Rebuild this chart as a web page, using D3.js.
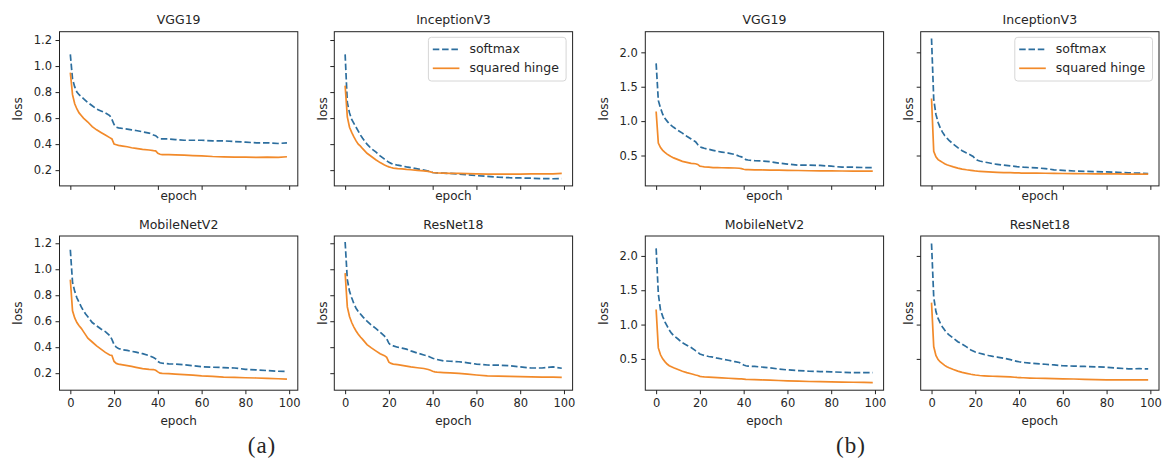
<!DOCTYPE html>
<html>
<head>
<meta charset="utf-8">
<script src="https://cdn.jsdelivr.net/npm/d3@7"></script>
<style>
  body { margin: 0; background: #fff; }
  text { font-family: "DejaVu Sans", sans-serif; fill: #262626; }
</style>
</head>
<body>
<div id="chart"></div>
<script>
const epochs = [0, 1, 2, 3, 4, 5, 6, 7, 8,
  10, 12, 14, 16, 18,
  19, 20, 21, 22,
  24, 26, 28, 30,
  33, 36, 38, 39,
  40, 41, 42, 45,
  48, 52, 56, 60,
  65, 70, 75, 80,
  85, 90, 95, 99];

const titles = ["VGG19", "InceptionV3", "MobileNetV2", "ResNet18"];
const seriesNames = ["softmax", "squared hinge"];
const xTicks = [0, 20, 40, 60, 80, 100];
const yTicksA = [0.2, 0.4, 0.6, 0.8, 1.0, 1.2];
const yTicksB = [0.5, 1.0, 1.5, 2.0];
const figLabels = ["(a)", "(b)"];

// (a)
const vggA_softmax = [1.09, 0.90, 0.84, 0.80, 0.78, 0.765, 0.75, 0.735, 0.72,
  0.695, 0.67, 0.655, 0.64, 0.62,
  0.59, 0.55, 0.53, 0.525,
  0.52, 0.515, 0.51, 0.505,
  0.495, 0.485, 0.47, 0.465,
  0.45, 0.44, 0.44, 0.44,
  0.435, 0.43, 0.43, 0.43,
  0.425, 0.425, 0.42, 0.415,
  0.41, 0.41, 0.405, 0.41];
const vggA_hinge = [0.95, 0.78, 0.71, 0.67, 0.64, 0.62, 0.60, 0.585, 0.57,
  0.535, 0.51, 0.49, 0.47, 0.45,
  0.44, 0.40, 0.395, 0.39,
  0.385, 0.38, 0.372, 0.367,
  0.36, 0.355, 0.35, 0.348,
  0.33, 0.322, 0.32, 0.32,
  0.318, 0.315, 0.312, 0.31,
  0.305, 0.302, 0.30, 0.30,
  0.298, 0.30, 0.298, 0.303];
const incA_softmax = [1.09, 0.72, 0.64, 0.59, 0.56, 0.53, 0.50, 0.47, 0.445,
  0.40, 0.365, 0.34, 0.31, 0.285,
  0.272, 0.26, 0.252, 0.246,
  0.238, 0.232, 0.225, 0.219,
  0.21, 0.20, 0.192, 0.188,
  0.182, 0.18, 0.179, 0.177,
  0.175, 0.17, 0.165, 0.158,
  0.152, 0.146, 0.142, 0.14,
  0.138, 0.135, 0.134, 0.135];
const incA_hinge = [0.85, 0.61, 0.53, 0.49, 0.455, 0.425, 0.40, 0.385, 0.365,
  0.33, 0.305, 0.28, 0.258, 0.24,
  0.232, 0.225, 0.22, 0.216,
  0.212, 0.21, 0.206, 0.203,
  0.199, 0.195, 0.19, 0.187,
  0.182, 0.18, 0.178, 0.177,
  0.176, 0.175, 0.174, 0.172,
  0.17, 0.17, 0.17, 0.17,
  0.171, 0.172, 0.172, 0.175];
const mobA_softmax = [1.15, 0.90, 0.83, 0.78, 0.745, 0.71, 0.68, 0.655, 0.635,
  0.59, 0.565, 0.54, 0.52, 0.49,
  0.46, 0.42, 0.40, 0.39,
  0.38, 0.375, 0.368, 0.362,
  0.35, 0.335, 0.32, 0.31,
  0.29, 0.28, 0.277, 0.272,
  0.27, 0.265, 0.258, 0.25,
  0.246, 0.243, 0.24, 0.23,
  0.225, 0.22, 0.215, 0.213];
const mobA_hinge = [0.92, 0.68, 0.625, 0.59, 0.565, 0.545, 0.52, 0.495, 0.47,
  0.44, 0.41, 0.385, 0.36, 0.34,
  0.336, 0.29, 0.275, 0.27,
  0.264, 0.258, 0.252, 0.245,
  0.235, 0.23, 0.228, 0.222,
  0.21, 0.20, 0.198, 0.196,
  0.193, 0.189, 0.185, 0.18,
  0.176, 0.17, 0.167, 0.165,
  0.163, 0.16, 0.157, 0.154];
const resA_softmax = [1.21, 0.92, 0.83, 0.78, 0.735, 0.70, 0.675, 0.655, 0.635,
  0.60, 0.57, 0.545, 0.515, 0.485,
  0.465, 0.43, 0.415, 0.41,
  0.40, 0.393, 0.385, 0.372,
  0.355, 0.34, 0.33, 0.322,
  0.315, 0.31, 0.305, 0.295,
  0.292, 0.288, 0.28, 0.27,
  0.263, 0.262, 0.258, 0.248,
  0.24, 0.24, 0.248, 0.238];
const resA_hinge = [0.97, 0.71, 0.636, 0.59, 0.555, 0.525, 0.50, 0.478, 0.46,
  0.42, 0.395, 0.372, 0.35, 0.335,
  0.322, 0.285, 0.275, 0.27,
  0.266, 0.26, 0.254, 0.248,
  0.242, 0.236, 0.228, 0.222,
  0.215, 0.21, 0.208, 0.205,
  0.202, 0.198, 0.192, 0.186,
  0.18, 0.178, 0.176, 0.174,
  0.172, 0.17, 0.17, 0.167];

// (b)
const vggB_softmax = [1.84, 1.30, 1.19, 1.10, 1.04, 1.00, 0.96, 0.935, 0.91,
  0.865, 0.825, 0.78, 0.74, 0.70,
  0.66, 0.625, 0.615, 0.605,
  0.59, 0.575, 0.56, 0.55,
  0.535, 0.515, 0.49, 0.48,
  0.46, 0.44, 0.435, 0.425,
  0.42, 0.41, 0.39, 0.375,
  0.36, 0.36, 0.355, 0.345,
  0.33, 0.33, 0.325, 0.325];
const vggB_hinge = [1.14, 0.68, 0.615, 0.575, 0.545, 0.52, 0.50, 0.48, 0.465,
  0.44, 0.415, 0.40, 0.385, 0.38,
  0.37, 0.345, 0.34, 0.335,
  0.33, 0.325, 0.323, 0.322,
  0.32, 0.318, 0.315, 0.31,
  0.30, 0.296, 0.295, 0.292,
  0.29, 0.288, 0.287, 0.285,
  0.282, 0.278, 0.277, 0.276,
  0.275, 0.274, 0.273, 0.272];
const incB_softmax = [2.20, 1.32, 1.10, 0.98, 0.90, 0.84, 0.79, 0.755, 0.72,
  0.665, 0.615, 0.57, 0.535, 0.505,
  0.485, 0.45, 0.43, 0.42,
  0.405, 0.395, 0.38, 0.372,
  0.36, 0.35, 0.342, 0.338,
  0.335, 0.333, 0.33, 0.325,
  0.32, 0.31, 0.292, 0.283,
  0.275, 0.27, 0.266, 0.262,
  0.256, 0.248, 0.243, 0.238];
const incB_hinge = [1.33, 0.56, 0.48, 0.44, 0.42, 0.40, 0.38, 0.365, 0.355,
  0.335, 0.317, 0.303, 0.293, 0.285,
  0.28, 0.275, 0.272, 0.27,
  0.265, 0.261, 0.258, 0.255,
  0.252, 0.25, 0.248, 0.247,
  0.246, 0.245, 0.245, 0.244,
  0.243, 0.242, 0.24, 0.238,
  0.237, 0.235, 0.234, 0.233,
  0.232, 0.23, 0.229, 0.228];
const mobB_softmax = [2.11, 1.45, 1.21, 1.12, 1.04, 0.98, 0.92, 0.875, 0.84,
  0.79, 0.735, 0.70, 0.665, 0.62,
  0.60, 0.57, 0.56, 0.55,
  0.535, 0.525, 0.51, 0.498,
  0.48, 0.46, 0.447, 0.43,
  0.41, 0.40, 0.395, 0.39,
  0.382, 0.37, 0.352, 0.34,
  0.33, 0.32, 0.316, 0.312,
  0.305, 0.30, 0.30, 0.30];
const mobB_hinge = [1.22, 0.66, 0.56, 0.50, 0.46, 0.425, 0.40, 0.385, 0.37,
  0.345, 0.32, 0.30, 0.283, 0.265,
  0.258, 0.246, 0.24, 0.237,
  0.234, 0.232, 0.228, 0.224,
  0.218, 0.213, 0.21, 0.208,
  0.205, 0.202, 0.20, 0.197,
  0.194, 0.19, 0.185, 0.18,
  0.177, 0.171, 0.168, 0.165,
  0.162, 0.16, 0.157, 0.155];
const resB_softmax = [2.18, 1.40, 1.19, 1.09, 1.02, 0.965, 0.92, 0.88, 0.85,
  0.80, 0.75, 0.715, 0.675, 0.63,
  0.615, 0.60, 0.59, 0.582,
  0.565, 0.55, 0.537, 0.527,
  0.51, 0.49, 0.472, 0.465,
  0.458, 0.452, 0.448, 0.438,
  0.43, 0.422, 0.412, 0.40,
  0.395, 0.39, 0.385, 0.378,
  0.365, 0.355, 0.357, 0.355];
const resB_hinge = [1.32, 0.68, 0.55, 0.49, 0.455, 0.43, 0.405, 0.385, 0.37,
  0.345, 0.322, 0.303, 0.29, 0.276,
  0.27, 0.265, 0.262, 0.258,
  0.254, 0.25, 0.247, 0.245,
  0.242, 0.237, 0.233, 0.23,
  0.228, 0.226, 0.225, 0.221,
  0.218, 0.215, 0.212, 0.21,
  0.207, 0.203, 0.198, 0.195,
  0.195, 0.194, 0.194, 0.194];

// layout (pixels)
const colX = [59.5, 334.3, 645.3, 920.7];
const rowY = [31.7, 236];
const panelW = 238.3, panelH = 154.2;
const yDomains = {
  a: [[0.079, 1.264], [0.069, 1.256]],
  b: [[0.058, 2.30], [0.044, 2.29]]
};
const blue = "#2c6e9e", orange = "#f28a2a";

const panels = [
  { fig: "a", row: 0, col: 0, title: titles[0], s: vggA_softmax, h: vggA_hinge },
  { fig: "a", row: 0, col: 1, title: titles[1], s: incA_softmax, h: incA_hinge },
  { fig: "a", row: 1, col: 0, title: titles[2], s: mobA_softmax, h: mobA_hinge },
  { fig: "a", row: 1, col: 1, title: titles[3], s: resA_softmax, h: resA_hinge },
  { fig: "b", row: 0, col: 2, title: titles[0], s: vggB_softmax, h: vggB_hinge },
  { fig: "b", row: 0, col: 3, title: titles[1], s: incB_softmax, h: incB_hinge },
  { fig: "b", row: 1, col: 2, title: titles[2], s: mobB_softmax, h: mobB_hinge },
  { fig: "b", row: 1, col: 3, title: titles[3], s: resB_softmax, h: resB_hinge }
];

const svg = d3.select("#chart")
  .append("svg")
  .attr("width", 1166)
  .attr("height", 462);

const x = d3.scaleLinear().domain([-4.95, 103.95]).range([0, panelW]);

function drawPanel(p) {
  const g = svg.append("g")
    .attr("transform", `translate(${colX[p.col]},${rowY[p.row]})`);
  const y = d3.scaleLinear().domain(yDomains[p.fig][p.row]).range([panelH, 0]);
  const leftCol = p.col % 2 === 0;
  const bottomRow = p.row === 1;

  const yAxis = d3.axisLeft(y)
    .tickValues(p.fig === "a" ? yTicksA : yTicksB)
    .tickSize(4).tickPadding(3.5)
    .tickFormat(leftCol ? d3.format(".1f") : "");
  g.append("g").call(yAxis)
    .call(a => a.select(".domain").remove())
    .call(a => a.selectAll("text").style("font-size", "11.5px").attr("fill", "#262626"))
    .call(a => a.selectAll("line").attr("stroke", "#222"));

  const xAxis = d3.axisBottom(x)
    .tickValues(xTicks)
    .tickSize(4).tickPadding(4.5)
    .tickFormat(bottomRow ? d3.format("d") : "");
  g.append("g").attr("transform", `translate(0,${panelH})`).call(xAxis)
    .call(a => a.select(".domain").remove())
    .call(a => a.selectAll("text").style("font-size", "11.5px").attr("fill", "#262626"))
    .call(a => a.selectAll("line").attr("stroke", "#222"));

  const line = d3.line()
    .x((d, i) => x(epochs[i]))
    .y(d => y(d));

  g.append("path")
    .datum(p.s)
    .attr("d", line)
    .attr("fill", "none")
    .attr("stroke", blue)
    .attr("stroke-width", 1.7)
    .attr("stroke-dasharray", "6.5,2.8");

  g.append("path")
    .datum(p.h)
    .attr("d", line)
    .attr("fill", "none")
    .attr("stroke", orange)
    .attr("stroke-width", 1.7);

  // frame
  g.append("rect")
    .attr("width", panelW)
    .attr("height", panelH)
    .attr("fill", "none")
    .attr("stroke", "#222")
    .attr("stroke-width", 1);

  g.append("text")
    .attr("x", panelW / 2)
    .attr("y", -7.5)
    .attr("text-anchor", "middle")
    .style("font-size", "12.5px")
    .text(p.title);

  g.append("text")
    .attr("x", panelW / 2)
    .attr("y", bottomRow ? panelH + 34.7 : panelH + 14.3)
    .attr("text-anchor", "middle")
    .style("font-size", "12px")
    .text("epoch");

  g.append("text")
    .attr("transform", `translate(${leftCol ? -37.5 : -7.3},${panelH / 2}) rotate(-90)`)
    .attr("text-anchor", "middle")
    .style("font-size", "12px")
    .text("loss");

  if (p.row === 0 && !leftCol) drawLegend(g);
}

function drawLegend(g) {
  const bw = 137.7, bh = 43.7;
  const lg = g.append("g").attr("transform", `translate(${panelW - 6.5 - bw},5.6)`);
  lg.append("rect")
    .attr("width", bw).attr("height", bh)
    .attr("rx", 3)
    .attr("fill", "#fff").attr("fill-opacity", 0.8)
    .attr("stroke", "#d6d6d6");
  seriesNames.forEach(function (name, i) {
    lg.append("line")
      .attr("x1", 4.4).attr("x2", 31)
      .attr("y1", 12 + i * 19).attr("y2", 12 + i * 19)
      .attr("stroke", i === 0 ? blue : orange)
      .attr("stroke-width", 1.7)
      .attr("stroke-dasharray", i === 0 ? "6.5,2.8" : null);
    lg.append("text")
      .attr("x", 41)
      .attr("y", 16.2 + i * 19)
      .style("font-size", "12.5px")
      .text(name);
  });
}

panels.forEach(drawPanel);

svg.selectAll(".figlabel")
  .data(figLabels)
  .join("text")
  .attr("class", "figlabel")
  .attr("x", (d, i) => i === 0 ? 262 : 851)
  .attr("y", 453)
  .attr("text-anchor", "middle")
  .style("font-family", "'Liberation Serif', serif")
  .style("font-size", "23px")
  .style("letter-spacing", "1px")
  .attr("fill", "#111")
  .text(d => d);
</script>
</body>
</html>
